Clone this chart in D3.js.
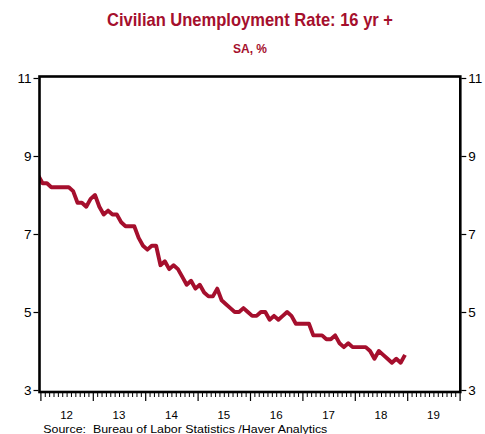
<!DOCTYPE html>
<html>
<head>
<meta charset="utf-8">
<script src="https://cdn.jsdelivr.net/npm/d3@7"></script>
<style>
  html, body { margin: 0; padding: 0; background: #ffffff; }
  svg { display: block; }
  text { font-family: "Liberation Sans", Arial, Helvetica, sans-serif; }
</style>
</head>
<body>
<script>
// ---- Data (monthly, seasonally adjusted, %) ----
const startMonth = "2011-12"; // first observation (month index -1 relative to Jan 2012)
const rate2011 = [8.5];
const rate2012 = [8.3, 8.3, 8.2, 8.2, 8.2, 8.2, 8.2, 8.1, 7.8, 7.8, 7.7, 7.9];
const rate2013 = [8.0, 7.7, 7.5, 7.6, 7.5, 7.5, 7.3, 7.2, 7.2, 7.2, 6.9, 6.7];
const rate2014 = [6.6, 6.7, 6.7, 6.2, 6.3, 6.1, 6.2, 6.1, 5.9, 5.7, 5.8, 5.6];
const rate2015 = [5.7, 5.5, 5.4, 5.4, 5.6, 5.3, 5.2, 5.1, 5.0, 5.0, 5.1, 5.0];
const rate2016 = [4.9, 4.9, 5.0, 5.0, 4.8, 4.9, 4.8, 4.9, 5.0, 4.9, 4.7, 4.7];
const rate2017 = [4.7, 4.7, 4.4, 4.4, 4.4, 4.3, 4.3, 4.4, 4.2, 4.1, 4.2, 4.1];
const rate2018 = [4.1, 4.1, 4.1, 4.0, 3.8, 4.0, 3.9, 3.8, 3.7, 3.8, 3.7, 3.9];

const yearLabels = ["12", "13", "14", "15", "16", "17", "18", "19"];
const yTicks = [3, 5, 7, 9, 11];

const titleText = "Civilian Unemployment Rate: 16 yr +";
const subtitleText = "SA, %";
const sourceText = "Source:  Bureau of Labor Statistics /Haver Analytics";

// Build series: month index relative to Jan 2012 start (0 = Jan 2012)
const values = [].concat(rate2011, rate2012, rate2013, rate2014, rate2015, rate2016, rate2017, rate2018);
const series = values.map((v, k) => ({ m: k - 1, v }));

// ---- Layout ----
const W = 485, H = 434;
const red = "#a50f2d";
const frame = { left: 39.5, right: 460.3, top: 76.5, bottom: 392 };

const svg = d3.select("body").append("svg").attr("width", W).attr("height", H);

const x = d3.scaleLinear().domain([0, 96]).range([40.4, 459.6]);
const y = d3.scaleLinear().domain([3, 11]).range([390, 78]);

// Titles
svg.append("text").attr("x", 250).attr("y", 26).attr("text-anchor", "middle")
  .attr("font-size", 18.5).attr("font-weight", "bold").attr("fill", red)
  .attr("textLength", 286).attr("lengthAdjust", "spacingAndGlyphs")
  .text(titleText);
svg.append("text").attr("x", 250).attr("y", 53).attr("text-anchor", "middle")
  .attr("font-size", 12.5).attr("font-weight", "bold").attr("fill", red)
  .attr("textLength", 34).attr("lengthAdjust", "spacingAndGlyphs")
  .text(subtitleText);

// Clip for line
svg.append("clipPath").attr("id", "plotclip").append("rect")
  .attr("x", frame.left).attr("y", frame.top)
  .attr("width", frame.right - frame.left).attr("height", frame.bottom - frame.top);

// Line
const line = d3.line().x(d => x(d.m + 0.5)).y(d => y(d.v));
svg.append("path").datum(series)
  .attr("clip-path", "url(#plotclip)")
  .attr("d", line).attr("fill", "none").attr("stroke", red)
  .attr("stroke-width", 3.9).attr("stroke-linejoin", "round").attr("stroke-linecap", "butt");

// Frame
svg.append("rect")
  .attr("x", frame.left).attr("y", frame.top)
  .attr("width", frame.right - frame.left).attr("height", frame.bottom - frame.top)
  .attr("fill", "none").attr("stroke", "#000").attr("stroke-width", 2.6);

// Left axis
const leftAxis = d3.axisLeft(y).tickValues(yTicks).tickSize(5).tickPadding(2).tickFormat(d3.format("d"));
const gl = svg.append("g").attr("transform", `translate(${frame.left - 1},0)`).call(leftAxis);
gl.select(".domain").remove();
gl.selectAll("line").attr("stroke", "#000").attr("stroke-width", 1.2);
gl.selectAll("text").attr("font-size", 13.5).attr("fill", "#000")
  .attr("font-family", "'Liberation Sans', Arial, sans-serif");

// Right axis
const rightAxis = d3.axisRight(y).tickValues(yTicks).tickSize(5).tickPadding(2).tickFormat(d3.format("d"));
const gr = svg.append("g").attr("transform", `translate(${frame.right + 1},0)`).call(rightAxis);
gr.select(".domain").remove();
gr.selectAll("line").attr("stroke", "#000").attr("stroke-width", 1.2);
gr.selectAll("text").attr("font-size", 13.5).attr("fill", "#000")
  .attr("font-family", "'Liberation Sans', Arial, sans-serif");

// Bottom ticks: monthly minor, yearly major
const minorAxis = d3.axisBottom(x).tickValues(d3.range(0, 97).filter(d => d % 12 !== 0))
  .tickSize(4).tickFormat("");
const gmin = svg.append("g").attr("transform", `translate(0,${frame.bottom + 1})`).call(minorAxis);
gmin.select(".domain").remove();
gmin.selectAll("line").attr("stroke", "#000").attr("stroke-width", 1);

const majorAxis = d3.axisBottom(x).tickValues(d3.range(0, 97, 12)).tickSize(8).tickFormat("");
const gmaj = svg.append("g").attr("transform", `translate(0,${frame.bottom + 1})`).call(majorAxis);
gmaj.select(".domain").remove();
gmaj.selectAll("line").attr("stroke", "#000").attr("stroke-width", 1.2);

// Year labels centered in each year
svg.append("g").selectAll("text").data(yearLabels).join("text")
  .attr("x", (d, i) => x(i * 12 + 6)).attr("y", 418.5)
  .attr("text-anchor", "middle").attr("font-size", 11.5).attr("fill", "#000")
  .text(d => d);

// Source
svg.append("text").attr("x", 43.3).attr("y", 432.5)
  .attr("font-size", 11.5).attr("fill", "#000")
  .attr("textLength", 284).attr("lengthAdjust", "spacingAndGlyphs")
  .attr("xml:space", "preserve").style("white-space", "pre")
  .text(sourceText);
</script>
</body>
</html>
